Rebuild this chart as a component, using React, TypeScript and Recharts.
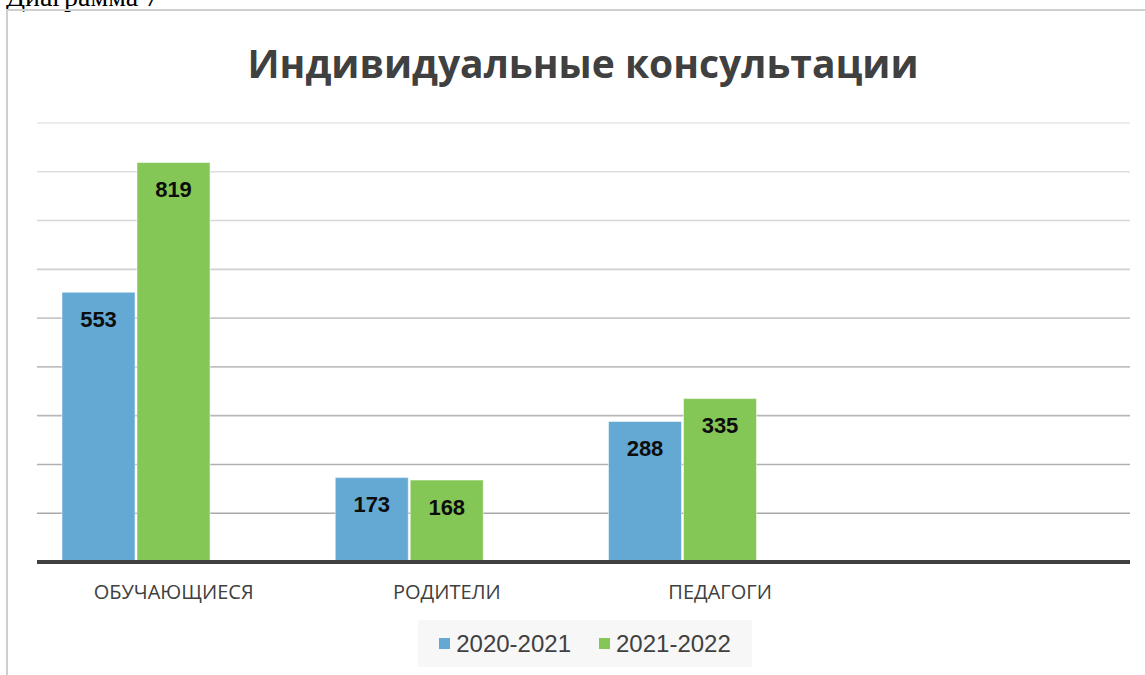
import { BarChart, Bar, XAxis, YAxis, CartesianGrid, LabelList } from "recharts"

const categories = ["ОБУЧАЮЩИЕСЯ", "РОДИТЕЛИ", "ПЕДАГОГИ", ""]
const values2020 = [553, 173, 288, null]
const values2021 = [819, 168, 335, null]
// third series of the source workbook is empty, it only takes its slot in each group
const values2022 = [null, null, null, null]
const yTicks = [0, 100, 200, 300, 400, 500, 600, 700, 800, 900]

const seriesNames = ["2020-2021", "2021-2022"]
const BLUE = "#64a9d3"
const GREEN = "#85c756"

const data = categories.map((name, i) => ({
  name,
  a: values2020[i],
  b: values2021[i],
  c: values2022[i],
}))

const labelStyle = {
  fill: "#0d0d0d",
  fontFamily: "'Liberation Sans', Arial, sans-serif",
  fontWeight: 700,
  fontSize: 22,
}

export default function App() {
  return (
    <div style={{ position: "relative", width: 1145, height: 675, overflow: "hidden", background: "#fff" }}>
      <style>{`body{margin:0}`}</style>
      <div
        style={{
          position: "absolute",
          left: 6,
          top: -17,
          fontFamily: "'Liberation Serif', 'Times New Roman', serif",
          fontSize: 28,
          lineHeight: "28px",
          color: "#000",
          whiteSpace: "nowrap",
        }}
      >
        Диаграмма 7
      </div>
      <div
        style={{
          position: "absolute",
          left: 6,
          top: 9,
          width: 1180,
          height: 720,
          border: "2px solid #cfcfcf",
          boxSizing: "border-box",
        }}
      />
      <div
        style={{
          position: "absolute",
          left: 0,
          width: 1166,
          top: 37,
          textAlign: "center",
          fontFamily: "'Open Sans', sans-serif",
          fontWeight: 700,
          fontSize: 39,
          lineHeight: "52px",
          color: "#404040",
        }}
      >
        Индивидуальные консультации
      </div>
      <div style={{ position: "absolute", left: 0, top: 0 }}>
        <BarChart
          width={1145}
          height={675}
          data={data}
          margin={{ top: 123, right: 15, left: 37, bottom: 73 }}
          barSize={73}
          barGap={2}
        >
          <defs>
            <linearGradient id="gridShade" gradientUnits="userSpaceOnUse" x1="0" y1="18%" x2="0" y2="76%">
              <stop offset="0%" stopColor="#e6e6e6" />
              <stop offset="100%" stopColor="#a9a9a9" />
            </linearGradient>
          </defs>
          <CartesianGrid vertical={false} stroke="url(#gridShade)" strokeWidth={1.6} />
          <YAxis hide domain={[0, 900]} ticks={yTicks} />
          <XAxis
            dataKey="name"
            height={40}
            tickLine={false}
            tickSize={0}
            tickMargin={23}
            axisLine={{ stroke: "#404040", strokeWidth: 4 }}
            tick={{ fill: "#404040", fontFamily: "'Open Sans', sans-serif", fontSize: 20 }}
            interval={0}
          />
          <Bar dataKey="a" name={seriesNames[0]} fill={BLUE} stroke="#ffffff" strokeOpacity={0.5} isAnimationActive={false}>
            <LabelList dataKey="a" position="insideTop" offset={19} style={labelStyle} />
          </Bar>
          <Bar dataKey="b" name={seriesNames[1]} fill={GREEN} stroke="#ffffff" strokeOpacity={0.5} isAnimationActive={false}>
            <LabelList dataKey="b" position="insideTop" offset={19} style={labelStyle} />
          </Bar>
          <Bar dataKey="c" name="" fill="#ffffff" isAnimationActive={false} />
        </BarChart>
      </div>
      <div
        style={{
          position: "absolute",
          left: 418,
          top: 620,
          width: 334,
          height: 47,
          background: "#f7f7f7",
          display: "flex",
          alignItems: "center",
          justifyContent: "center",
          gap: 28,
          fontFamily: "'Liberation Sans', Arial, sans-serif",
          fontSize: 24,
          color: "#404040",
        }}
      >
        {seriesNames.map((s, i) => (
          <div key={s} style={{ display: "flex", alignItems: "center", gap: 6 }}>
            <span style={{ display: "inline-block", width: 11, height: 11, background: i === 0 ? BLUE : GREEN }} />
            <span>{s}</span>
          </div>
        ))}
      </div>
    </div>
  )
}
